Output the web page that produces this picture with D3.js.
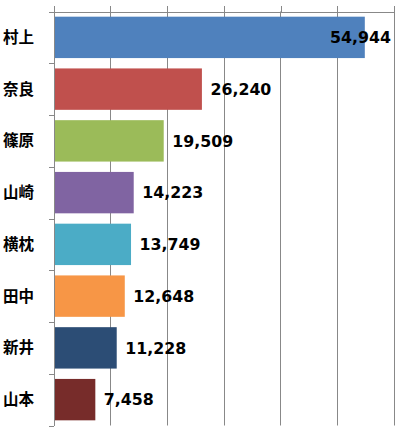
<!DOCTYPE html>
<meta charset="utf-8" />
<style>
  body { margin: 0; background: #fff; }
  .grid line { stroke: #888; stroke-width: 1px; }
  .axis path, .axis line { stroke: #888; shape-rendering: crispEdges; }
  .cat { font-family: "Noto Sans CJK JP", sans-serif; font-weight: bold; font-size: 15.5px; fill: #000; }
  .val { font-family: "DejaVu Sans", Verdana, sans-serif; font-weight: bold; font-size: 15.8px; fill: #000; }
</style>
<svg width="395" height="431"></svg>
<script src="https://d3js.org/d3.v7.min.js"></script>
<script>
  var names = ["村上", "奈良", "篠原", "山崎", "横枕", "田中", "新井", "山本"];
  var counts = [54944, 26240, 19509, 14223, 13749, 12648, 11228, 7458];
  var colors = ["#4F81BD", "#C0504D", "#9BBB59", "#8064A2", "#4BACC6", "#F79646", "#2C4D75", "#772C2A"];
  var xTicks = [0, 10000, 20000, 30000, 40000, 50000, 60000];

  var svg = d3.select("svg");
  var plotL = 53.5, plotR = 394, plotT = 11.5, plotB = 425.5;

  var x = d3.scaleLinear().domain([0, 60000]).range([plotL, plotR]);
  var y = d3.scaleBand().domain(names).range([plotT, plotB])
    .paddingInner(0.2).paddingOuter(0.1);

  // vertical gridlines
  svg.append("g").attr("class", "grid")
    .selectAll("line").data(xTicks.slice(1)).enter().append("line")
    .attr("x1", function (d) { return Math.round(x(d)) + 0.5; })
    .attr("x2", function (d) { return Math.round(x(d)) + 0.5; })
    .attr("y1", plotT).attr("y2", plotB);

  // bars
  svg.append("g").selectAll("rect").data(counts).enter().append("rect")
    .attr("x", x(0) + 0.5)
    .attr("y", function (d, i) { return y(names[i]); })
    .attr("width", function (d) { return x(d) - x(0) - 1; })
    .attr("height", y.bandwidth())
    .attr("fill", function (d, i) { return colors[i]; });

  // top axis (ticks only)
  svg.append("g").attr("class", "axis")
    .attr("transform", "translate(0," + plotT + ")")
    .call(d3.axisTop(x).tickValues(xTicks).tickSize(6).tickSizeOuter(0).tickFormat(""));

  // left axis with ticks at category boundaries
  var yEdge = d3.scaleLinear().domain([0, names.length]).range([plotT, plotB]);
  svg.append("g").attr("class", "axis")
    .attr("transform", "translate(" + plotL + ",0)")
    .call(d3.axisLeft(yEdge).ticks(names.length).tickSize(5).tickSizeOuter(0).tickFormat(""));

  // category labels
  svg.append("g").selectAll("text").data(names).enter().append("text")
    .attr("class", "cat")
    .attr("x", 34)
    .attr("y", function (d) { return y(d) + y.bandwidth() / 2; })
    .attr("dy", "0.36em")
    .attr("text-anchor", "end")
    .text(function (d) { return d; });

  // value labels
  var fmt = d3.format(",");
  svg.append("g").selectAll("text").data(counts).enter().append("text")
    .attr("class", "val")
    .attr("y", function (d, i) { return y(names[i]) + y.bandwidth() / 2; })
    .attr("dy", "0.36em")
    .text(function (d) { return fmt(d); })
    .attr("x", function (d) {
      var w = this.getComputedTextLength();
      var px = x(d) + 8;
      if (px + w > 391) px = 391 - w;
      return px;
    });
</script>
